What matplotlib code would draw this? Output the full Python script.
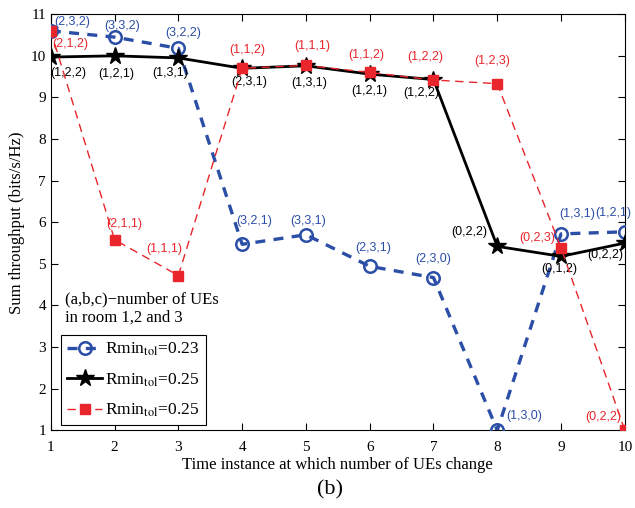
import numpy as np
import matplotlib
matplotlib.use("Agg")
from matplotlib import pyplot as plt

plt.rcParams['font.family'] = ['Liberation Serif', 'DejaVu Serif']
plt.rcParams['mathtext.fontset'] = 'stix'

# time instances
t = [1, 2, 3, 4, 5, 6, 7, 8, 9, 10]

# sum throughput values
blue_y = [10.6, 10.45, 10.18, 5.47, 5.7, 4.94, 4.67, 1.0, 5.72, 5.77]
black_y = [9.97, 10.0, 9.95, 9.7, 9.76, 9.56, 9.43, 5.42, 5.18, 5.5]
red_y = [10.6, 5.58, 4.72, 9.7, 9.77, 9.6, 9.42, 9.33, 5.38, 1.0]

# (a,b,c) labels for every point
blue_lab = ["(2,3,2)", "(3,3,2)", "(3,2,2)", "(3,2,1)", "(3,3,1)",
            "(2,3,1)", "(2,3,0)", "(1,3,0)", "(1,3,1)", "(1,2,1)"]
black_lab = ["(1,2,2)", "(1,2,1)", "(1,3,1)", "(2,3,1)", "(1,3,1)",
             "(1,2,1)", "(1,2,2)", "(0,2,2)", "(0,1,2)", "(0,2,2)"]
red_lab = ["(2,1,2)", "(2,1,1)", "(1,1,1)", "(1,1,2)", "(1,1,1)",
           "(1,1,2)", "(1,2,2)", "(1,2,3)", "(0,2,3)", "(0,2,2)"]

# label offsets in pixels (dx, dy)
blue_off = [(21, 9), (8, 11), (5, 15), (12, 23), (2, 14),
            (3, 18), (0, 19), (27, 14), (16, 20), (-12, 19)]
black_off = [(17, -16), (2, -18), (-8, -15), (7, -14), (3, -17),
             (0, -17), (-12, -13), (-28, 14), (-2, -13), (-20, -12)]
red_off = [(19, -13), (10, 16), (-14, 27), (5, 18), (6, 19),
           (-3, 17), (-8, 23), (-5, 23), (-24, 10), (-22, 13)]

blue = '#2b4ea6'
red = '#e8262b'

fig = plt.figure(figsize=(6.35, 5.08), dpi=100)
ax = fig.add_axes([0.080, 0.153, 0.904, 0.819])

ax.plot(t, blue_y, '--', color=blue, lw=2.4, marker='o', ms=9,
        mfc='none', mew=1.8, dashes=(3, 2.5), label=r"Rmin$_{\mathrm{tol}}$=0.23", zorder=3)
ax.plot(t, black_y, '-', color='black', lw=2, marker='*', ms=13,
        label=r"Rmin$_{\mathrm{tol}}$=0.25", zorder=4)
ax.plot(t, red_y, '--', color=red, lw=1, marker='s', ms=7,
        dashes=(6, 4), label=r"Rmin$_{\mathrm{tol}}$=0.25", zorder=5)

for x, y, s, o in zip(t, blue_y, blue_lab, blue_off):
    ax.annotate(s, (x, y), xytext=o, textcoords='offset pixels', ha='center',
                va='center', color=blue, fontsize=9, family='Liberation Sans')
for x, y, s, o in zip(t, black_y, black_lab, black_off):
    ax.annotate(s, (x, y), xytext=o, textcoords='offset pixels', ha='center',
                va='center', color='black', fontsize=9, family='Liberation Sans')
for x, y, s, o in zip(t, red_y, red_lab, red_off):
    ax.annotate(s, (x, y), xytext=o, textcoords='offset pixels', ha='center',
                va='center', color=red, fontsize=9, family='Liberation Sans')

ax.set_xlim(1, 10)
ax.set_ylim(1, 11)
ax.set_xticks(range(1, 11))
ax.set_yticks(range(1, 12))
ax.tick_params(direction='in', top=True, right=True, labelsize=11, length=5)
ax.tick_params(axis='x', pad=8)
ax.set_xlabel("Time instance at which number of UEs change", fontsize=12, labelpad=2)
ax.set_ylabel("Sum throughput (bits/s/Hz)", fontsize=12, labelpad=4)

ax.text(0.024, 0.335, "(a,b,c)\u2212number of UEs\nin room 1,2 and 3",
        transform=ax.transAxes, ha='left', va='top', fontsize=12, linespacing=1.2)

leg = ax.legend(loc='lower left', bbox_to_anchor=(0.018, 0.012), borderaxespad=0,
                fontsize=12.5, handlelength=2.0, fancybox=False, edgecolor='black',
                framealpha=1, labelspacing=0.75, borderpad=0.35, handletextpad=0.2)
leg.get_frame().set_linewidth(0.8)

fig.text(0.52, 0.035, "(b)", ha='center', va='center', fontsize=16)

fig.savefig("out.png", dpi=100)
